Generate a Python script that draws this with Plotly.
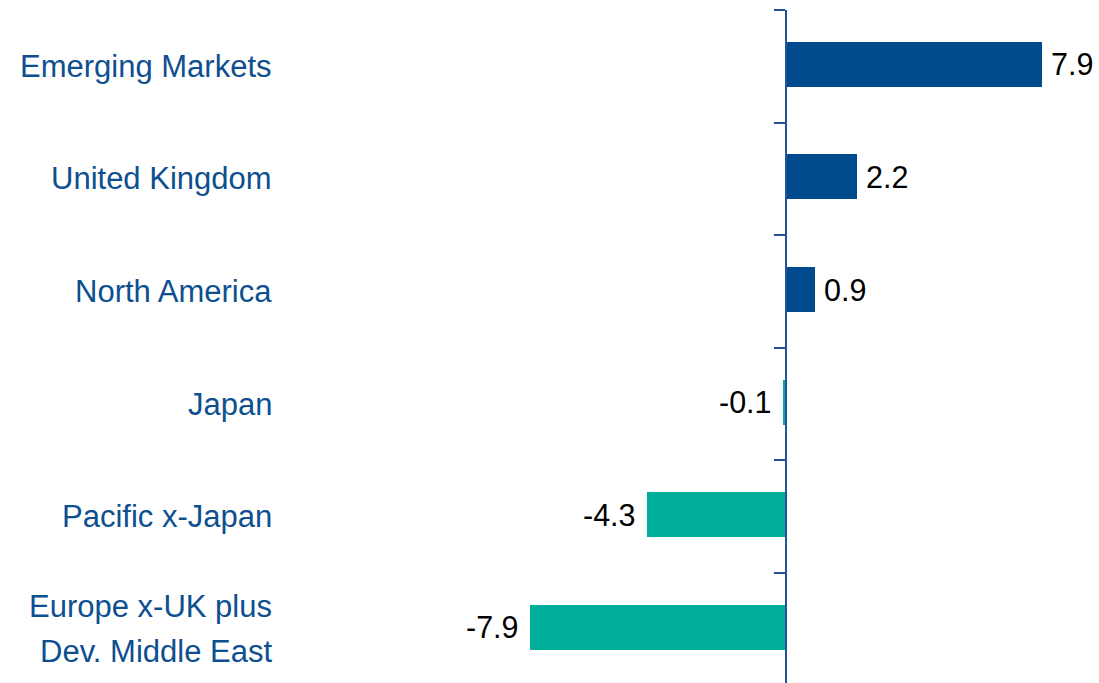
import plotly.graph_objects as go

# Regional contributions (top to bottom)
regions = [
    "Emerging Markets",
    "United Kingdom",
    "North America",
    "Japan",
    "Pacific x-Japan",
    "Europe x-UK plus<br>Dev. Middle East",
]
values = [7.9, 2.2, 0.9, -0.1, -4.3, -7.9]
value_labels = ["7.9", "2.2", "0.9", "-0.1", "-4.3", "-7.9"]

POS_COLOR = "#004B8D"
NEG_COLOR = "#00AF9B"
TEXT_BLUE = "#0D4F8F"
AXIS_BLUE = "#1F5597"
FONT = "Liberation Sans, Arial, sans-serif"
CAT_SIZE = 31
VAL_SIZE = 30.5

n = len(regions)
ypos = [n - 1 - i for i in range(n)]  # first region at the top
colors = [POS_COLOR if v >= 0 else NEG_COLOR for v in values]

px_per_unit = 32.4
zero_px = 786
W, H = 1099, 683
top = 10
cat_px = 112.6
bar_w = 0.4
lift = 2 / cat_px  # bars sit slightly above the band centre

fig = go.Figure()
fig.add_trace(go.Bar(
    x=values,
    y=ypos,
    orientation="h",
    width=bar_w,
    offset=-bar_w / 2 + lift,
    marker=dict(color=colors, line=dict(width=0)),
    hoverinfo="skip",
))

annotations = []
# value labels next to bar ends
for v, y, t in zip(values, ypos, value_labels):
    annotations.append(dict(
        x=v, y=y + lift, xref="x", yref="y", text=t, showarrow=False,
        xanchor="left" if v >= 0 else "right",
        xshift=7 if v >= 0 else -9,
        font=dict(family=FONT, size=VAL_SIZE, color="#000000"),
    ))

# category labels, right aligned, multi-line labels spread out
LINE_GAP = 45
for name, y in zip(regions, ypos):
    lines = name.split("<br>")
    k = len(lines)
    for j, line in enumerate(lines):
        annotations.append(dict(
            x=274 / W, y=y, xref="paper", yref="y", text=line,
            showarrow=False, xanchor="right", yanchor="middle",
            yshift=((k - 1) / 2 - j) * LINE_GAP,
            font=dict(family=FONT, size=CAT_SIZE, color=TEXT_BLUE),
        ))

fig.update_layout(
    width=W, height=H,
    margin=dict(l=0, r=0, t=top, b=0),
    paper_bgcolor="white", plot_bgcolor="white",
    showlegend=False,
    bargap=0,
    annotations=annotations,
    xaxis=dict(
        range=[-zero_px / px_per_unit, (W - zero_px) / px_per_unit],
        showgrid=False, zeroline=False, showticklabels=False,
        showline=False, ticks="", fixedrange=True,
    ),
    yaxis=dict(
        range=[n - 0.5 - (H - top) / cat_px, n - 0.5],
        showgrid=False, zeroline=False, showticklabels=False,
        showline=True, linecolor=AXIS_BLUE, linewidth=2,
        anchor="free", position=zero_px / W,
        tickmode="array", tickvals=[y + 0.5 for y in range(-1, n)],
        ticks="outside", ticklen=11, tickwidth=2, tickcolor=AXIS_BLUE,
        fixedrange=True,
    ),
)

fig.write_html("out.html")
